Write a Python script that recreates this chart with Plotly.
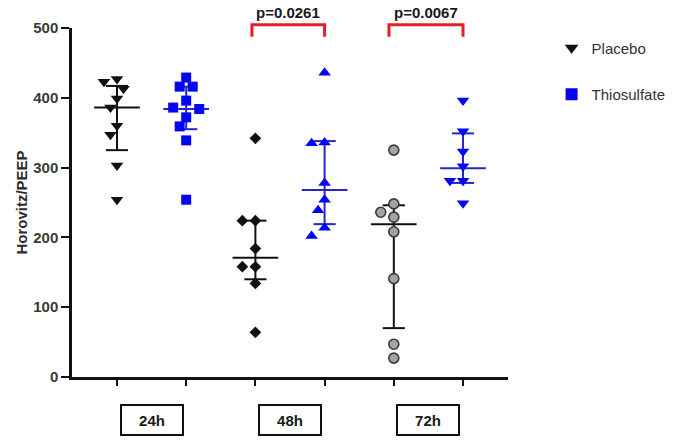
import plotly.graph_objects as go

# ---------------- data ----------------
timepoints = ["24h", "48h", "72h"]
groups = ["Placebo", "Thiosulfate"]

placebo_24h = [427, 423, 413, 399, 386, 360, 347, 303, 254]
thio_24h = [429, 416, 416, 396, 386, 384, 372, 359, 339, 254]
placebo_48h = [342, 224, 224, 184, 158, 158, 134, 64]
thio_48h = [436, 336, 335, 278, 254, 239, 214, 202]
placebo_72h = [325, 248, 236, 229, 208, 141, 47, 27]
thio_72h = [396, 352, 323, 302, 281, 281, 249]

# centre line and error-bar limits per time point
placebo_center = [386, 171, 219]
placebo_low = [325, 140, 70]
placebo_high = [417, 224, 246]
thio_center = [384, 268, 299]
thio_low = [355, 219, 278]
thio_high = [416, 338, 349]

p_labels = ["p=0.0261", "p=0.0067"]
y_ticks = [0, 100, 200, 300, 400, 500]

# ---------------- layout helpers ----------------
PX_PER_UNIT = 349 / 500.0   # vertical pixels per value unit
PX_PER_CAT = 69.0           # horizontal pixels per category slot


def swarm(values, d=11.0, step=6.5):
    """Simple beeswarm: returns horizontal offsets (category units)."""
    order = sorted(range(len(values)), key=lambda i: -values[i])
    placed = []
    offsets = [0.0] * len(values)
    cands = [0.0]
    for k in range(1, 8):
        cands += [-k * step, k * step]
    for i in order:
        y = values[i] * PX_PER_UNIT
        for c in cands:
            ok = all((c - px) ** 2 + (y - py) ** 2 >= d * d for px, py in placed)
            if ok:
                placed.append((c, y))
                offsets[i] = c / PX_PER_CAT
                break
    return offsets


BLACK = "#111111"
BLUE = "#0505f5"
BLUE_LINE = "#2626c8"
GREY = "#a3a3a3"
RED = "#e3202a"
FONT = "Liberation Sans, Arial"

series = [
    (0, placebo_24h, dict(symbol="triangle-down", size=11, color=BLACK), "Placebo", True),
    (1, thio_24h, dict(symbol="square", size=10, color=BLUE), "Thiosulfate", True),
    (2, placebo_48h, dict(symbol="diamond", size=9, color=BLACK), "Placebo", False),
    (3, thio_48h, dict(symbol="triangle-up", size=11, color=BLUE), "Thiosulfate", False),
    (4, placebo_72h, dict(symbol="circle", size=10, color=GREY,
                          line=dict(color="#3a3a3a", width=1.6)), "Placebo", False),
    (5, thio_72h, dict(symbol="triangle-down", size=11, color=BLUE), "Thiosulfate", False),
]

fig = go.Figure()


def summary_trace(cat, c, lo, hi, color):
    xs, ys = [], []
    w, cap = 0.33, 0.16
    xs += [cat - w, cat + w, None]; ys += [c, c, None]
    xs += [cat, cat, None]; ys += [lo, hi, None]
    xs += [cat - cap, cat + cap, None]; ys += [hi, hi, None]
    xs += [cat - cap, cat + cap, None]; ys += [lo, lo, None]
    return go.Scatter(x=xs, y=ys, mode="lines", line=dict(color=color, width=2),
                      showlegend=False, hoverinfo="skip")


for t in range(3):
    fig.add_trace(summary_trace(2 * t, placebo_center[t], placebo_low[t], placebo_high[t], BLACK))
    fig.add_trace(summary_trace(2 * t + 1, thio_center[t], thio_low[t], thio_high[t], BLUE_LINE))

for cat, vals, mk, name, show in series:
    offs = swarm(vals)
    fig.add_trace(go.Scatter(
        x=[cat + o for o in offs], y=vals, mode="markers",
        marker=dict(line=mk.pop("line", dict(width=0)), **mk),
        name=name, legendgroup=name, showlegend=show, cliponaxis=False,
    ))

# significance brackets
bracket_spans = [(1.95, 3.0), (3.93, 5.0)]
for (a, b), lab in zip(bracket_spans, p_labels):
    fig.add_shape(type="path", xref="x", yref="paper",
                  path=f"M {a},0.975 L {a},1.009 L {b},1.009 L {b},0.975",
                  line=dict(color=RED, width=3))
    fig.add_annotation(x=(a + b) / 2, y=1.043, xref="x", yref="paper",
                       xanchor="center", yanchor="middle",
                       text=f"<b>{lab}</b>", showarrow=False,
                       font=dict(size=15, color="#1a1a1a", family=FONT))

# boxed time-point labels
for t, lab in enumerate(timepoints):
    fig.add_annotation(x=2 * t + 0.5, y=-0.123, xref="x", yref="paper",
                       xanchor="center", yanchor="middle",
                       text=f"<b>{lab}</b>", showarrow=False,
                       width=56, height=24, borderpad=2, borderwidth=2,
                       bordercolor="#111111", bgcolor="white",
                       font=dict(size=15, color="#1a1a1a", family=FONT))

fig.update_layout(
    width=685, height=444,
    margin=dict(l=72, r=177, t=28, b=67),
    paper_bgcolor="white", plot_bgcolor="white",
    font=dict(family=FONT, color="#333333"),
    xaxis=dict(range=[-0.65, 5.65], tickvals=list(range(6)), showticklabels=False,
               ticks="outside", ticklen=6, tickwidth=2, tickcolor=BLACK,
               showline=True, linecolor=BLACK, linewidth=2.5,
               showgrid=False, zeroline=False, fixedrange=True),
    yaxis=dict(range=[0, 500], tickvals=y_ticks, ticks="outside", ticklen=8,
               tickwidth=2, tickcolor=BLACK, showline=True, linecolor=BLACK,
               linewidth=2.5, showgrid=False, zeroline=False,
               tickfont=dict(size=15, color="#3a3a3a", weight="bold"),
               title=dict(text="Horovitz/PEEP", standoff=2,
                          font=dict(size=15, color="#2a2a2a", weight="bold"))),
    legend=dict(x=1.1, xanchor="left", y=0.99, yanchor="top",
                font=dict(size=15, color="#333333"), tracegroupgap=24,
                itemsizing="constant", bgcolor="rgba(0,0,0,0)"),
    showlegend=True,
)

fig.write_html("out.html",
               config={"displayModeBar": False},
               post_script="document.body.style.margin='0';document.body.style.overflow='hidden';")
